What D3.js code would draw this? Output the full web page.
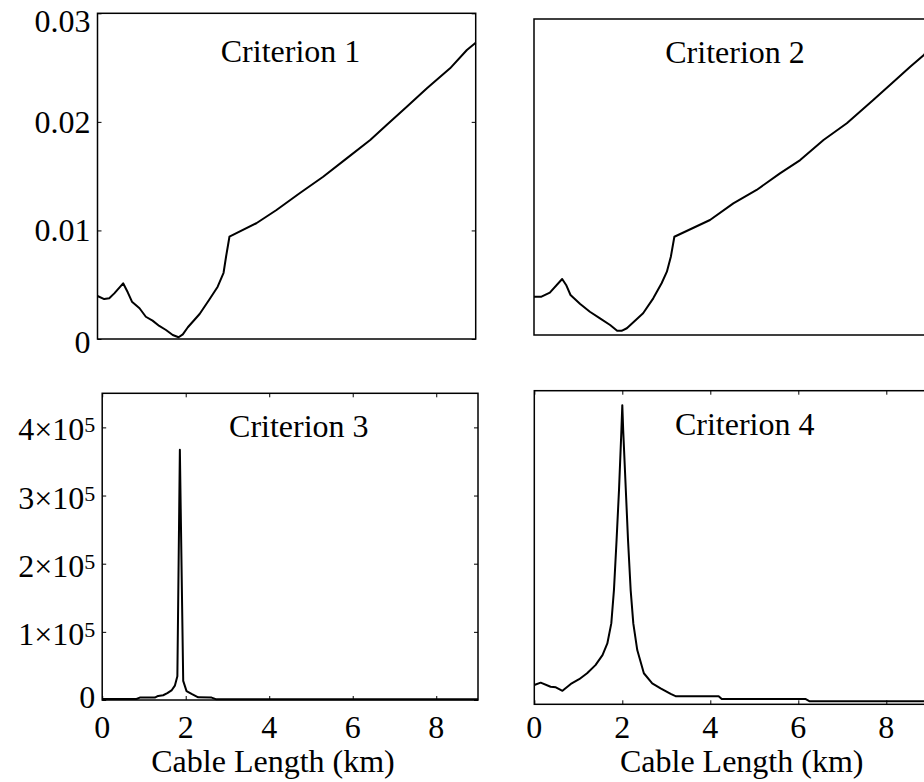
<!DOCTYPE html>
<html><head><meta charset="utf-8">
<script src="https://cdn.jsdelivr.net/npm/d3@7"></script>
<style>
body{margin:0;background:#fff}
svg{display:block}
text{font-family:"Liberation Serif","Times New Roman",serif;fill:#000}
</style>
</head><body>
<svg id="chart" width="924" height="782"></svg>
<script>
// ---------- data ----------
const c1X = [0,0.16,0.28,0.4,0.61,0.72,0.82,1.0,1.15,1.31,1.47,1.63,1.79,1.93,2.03,2.15,2.43,2.67,2.86,3.0,3.06,3.14,3.78,4.26,4.81,5.37,5.93,6.49,6.88,7.36,7.84,8.39,8.79,9.0];
const c1Y = [0.00396,0.00368,0.00375,0.0042,0.00513,0.0043,0.00344,0.00283,0.00205,0.00169,0.0012,0.00083,0.00037,0.00016,0.00043,0.00108,0.0023,0.00368,0.00482,0.0061,0.0076,0.00942,0.01066,0.01188,0.01342,0.01495,0.01664,0.01833,0.01971,0.0214,0.02309,0.02493,0.02662,0.02729];

const c2X = [0,0.17,0.36,0.64,0.73,0.83,1.05,1.27,1.5,1.73,1.89,1.99,2.11,2.48,2.71,2.9,3.02,3.11,3.19,4.0,4.53,5.06,5.59,6.05,6.58,7.11,7.71,8.09,8.55,8.86,9.0];
const c2Y = [0.00364,0.00364,0.00402,0.00532,0.00475,0.0038,0.00294,0.00221,0.00158,0.00095,0.00041,0.0004,0.00064,0.00206,0.00348,0.00491,0.00601,0.00743,0.00933,0.01092,0.0125,0.01377,0.01535,0.01661,0.01851,0.0201,0.02231,0.02373,0.02547,0.02658,0.02725];

const c3X = [0,0.4,0.82,0.9,1.0,1.26,1.34,1.46,1.56,1.66,1.74,1.8,1.86,1.94,2.02,2.14,2.3,2.62,2.72,3.5,5,7,9];
const c3Y = [1500,1500,1500,3500,3500,3500,6000,7000,10000,14000,21000,35000,367000,28000,13000,9000,4000,3500,1200,1200,1200,1200,1200];

const c4X = [0,0.145,0.37,0.49,0.64,0.83,1.02,1.2,1.39,1.55,1.66,1.75,1.81,1.87,1.925,1.98,2.0,2.02,2.08,2.13,2.19,2.25,2.34,2.49,2.68,2.87,3.1,3.21,4.19,4.26,6.16,6.26,9];
const c4Y = [0.0615,0.069,0.056,0.054,0.043,0.065,0.080,0.099,0.125,0.157,0.194,0.258,0.364,0.524,0.683,0.875,0.954,0.875,0.683,0.524,0.364,0.258,0.173,0.099,0.067,0.051,0.033,0.026,0.026,0.017,0.017,0.0096,0.0096];

const titles = ["Criterion 1","Criterion 2","Criterion 3","Criterion 4"];
const xLabel = "Cable Length (km)";
const xTicks = [0,2,4,6,8];
const xTickLabels = ["0","2","4","6","8"];
const yTicksTop = [0,0.01,0.02,0.03];
const yTickLabelsTop = ["0","0.01","0.02","0.03"];
const yTicksC3 = [0,1e5,2e5,3e5,4e5];
const yTickLabelsC3 = ["0","1×10","2×10","3×10","4×10"];
const yTickSupC3 = ["","5","5","5","5"];

// ---------- layout ----------
const svg = d3.select("#chart");
const FS = 32;
const panels = [
  {x:c1X, y:c1Y, l:97.5, r:475.7, t:13.3, b:339, yd:[0,0.03], title:titles[0], tx:290.5, ty:61.7,
   yt:yTicksTop, ytl:yTickLabelsTop, xt:false, xl:false},
  {x:c2X, y:c2Y, l:534, r:930, t:19, b:335, yd:[0,0.03], title:titles[1], tx:735, ty:63,
   yt:null, xt:false, xl:false},
  {x:c3X, y:c3Y, l:102.2, r:478, t:393.3, b:700, yd:[0,4.5e5], title:titles[2], tx:298.8, ty:436.7,
   yt:yTicksC3, ytl:yTickLabelsC3, yts:yTickSupC3, xt:true, xl:true, lx:273},
  {x:c4X, y:c4Y, l:534.3, r:930.3, t:390.7, b:704.3, yd:[0,1], title:titles[3], tx:744.7, ty:435,
   yt:null, xt:true, xl:true, lx:741.7}
];
const xTickBaseline = 738, xLabelBaseline = 772;

panels.forEach((p,pi)=>{
  const xs = d3.scaleLinear().domain([0,9]).range([p.l,p.r]);
  const ys = d3.scaleLinear().domain(p.yd).range([p.b,p.t]);
  const g = svg.append("g");

  if (p.yt){
    g.append("g").attr("transform",`translate(${p.l},0)`)
      .call(d3.axisLeft(ys).tickValues(p.yt).tickSize(-4).tickFormat(""))
      .call(a=>a.select(".domain").remove())
      .call(a=>a.selectAll("line").attr("stroke","#000").attr("stroke-width",1));
    g.append("g").attr("transform",`translate(${p.r},0)`)
      .call(d3.axisRight(ys).tickValues(p.yt).tickSize(-4).tickFormat(""))
      .call(a=>a.select(".domain").remove())
      .call(a=>a.selectAll("line").attr("stroke","#000").attr("stroke-width",1));
    p.yt.forEach((v,i)=>{
      let dy = 11;
      if (pi===0){ if (i===0) dy = 14; if (i===p.yt.length-1) dy = 18.4; }
      if (pi===2){ dy = 13; if (i===0) dy = 8; }
      const t = g.append("text").attr("x", p.l-7 - (p.yts && p.yts[i] ? 0 : 0)).attr("y", ys(v)+dy)
        .attr("text-anchor","end").attr("font-size",FS);
      t.append("tspan").text(p.ytl[i]);
      if (p.yts && p.yts[i]) {
        t.append("tspan").attr("font-size",22).attr("dy",-8).text(p.yts[i]);
      }
    });
  }
  if (p.xt){
    g.append("g").attr("transform",`translate(0,${p.b})`)
      .call(d3.axisBottom(xs).tickValues(xTicks).tickSize(-4).tickFormat(""))
      .call(a=>a.select(".domain").remove())
      .call(a=>a.selectAll("line").attr("stroke","#000").attr("stroke-width",1));
    g.append("g").attr("transform",`translate(0,${p.t})`)
      .call(d3.axisTop(xs).tickValues(xTicks).tickSize(-4).tickFormat(""))
      .call(a=>a.select(".domain").remove())
      .call(a=>a.selectAll("line").attr("stroke","#000").attr("stroke-width",1));
  }
  if (p.xl){
    xTicks.forEach((v,i)=>{
      g.append("text").attr("x", xs(v)).attr("y", xTickBaseline)
        .attr("text-anchor","middle").attr("font-size",FS).text(xTickLabels[i]);
    });
    g.append("text").attr("x", p.lx).attr("y", xLabelBaseline)
      .attr("text-anchor","middle").attr("font-size",FS).text(xLabel);
  }

  const pts = p.x.map((d,i)=>[d,p.y[i]]);
  g.append("path").datum(pts)
    .attr("d", d3.line().x(d=>xs(d[0])).y(d=>ys(d[1])))
    .attr("fill","none").attr("stroke","#000").attr("stroke-width",2)
    .attr("stroke-linejoin","round");

  g.append("rect").attr("x",p.l).attr("y",p.t).attr("width",p.r-p.l).attr("height",p.b-p.t)
    .attr("fill","none").attr("stroke","#000").attr("stroke-width",1.5);

  g.append("text").attr("x",p.tx).attr("y",p.ty).attr("text-anchor","middle")
    .attr("font-size",FS).text(p.title);
});
</script>
</body></html>
